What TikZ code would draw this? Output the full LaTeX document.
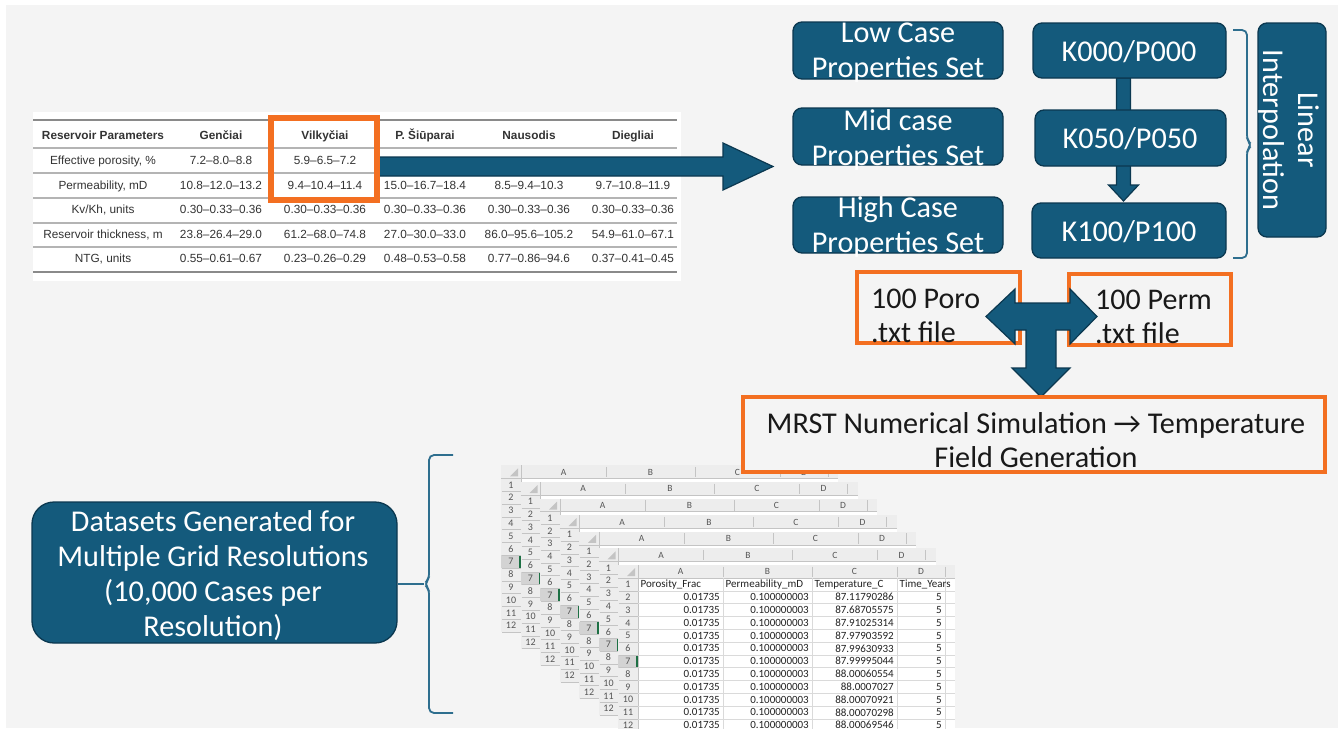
\documentclass[tikz,border=0pt]{standalone}
\usepackage{fontspec}
\setmainfont{Carlito}
\newfontfamily\arialf{Liberation Sans}
\usetikzlibrary{calc}
\definecolor{bgc}{HTML}{F4F4F4}
\definecolor{tealc}{HTML}{145A7C}
\definecolor{tealdk}{HTML}{0B3850}
\definecolor{orng}{HTML}{F36F21}
\definecolor{bracec}{HTML}{2E6E8E}
\definecolor{tabthk}{HTML}{8A8A8A}
\definecolor{tabthn}{HTML}{B4B4B4}
\definecolor{tabtxt}{HTML}{333333}
\definecolor{xhdr}{HTML}{EDEDED}
\definecolor{xsel}{HTML}{D3D3D3}
\definecolor{xgreen}{HTML}{1D7044}
\definecolor{xline}{HTML}{C4C4C4}
\definecolor{xgrid}{HTML}{DADADA}
\definecolor{xtxt}{HTML}{222222}
\definecolor{xrnc}{HTML}{555555}
\tikzset{
 tealbox/.style={draw=tealdk, line width=1.3pt, fill=tealc, rounded corners=9pt, inner sep=0pt},
 wtxt/.style={text=white, font=\fontsize{30.2}{35}\selectfont, align=center, inner sep=0pt},
 obox/.style={draw=orng, line width=3.8pt, inner sep=0pt},
 otxt/.style={text=black!90, font=\fontsize{30}{34.5}\selectfont, align=left, inner sep=0pt},
 mtxt/.style={text=black!90, font=\fontsize{30.2}{34.5}\selectfont, align=center, inner sep=0pt},
 blk/.style={fill=tealc, draw=tealdk, line width=1.2pt, line join=miter},
 brc/.style={draw=bracec, line width=1.8pt, rounded corners=5pt},
 tt/.style={font=\arialf\fontsize{11.8}{13}\selectfont, text=tabtxt, inner sep=0pt, text height=8.5pt, text depth=2.5pt},
 th/.style={tt, font=\arialf\bfseries\fontsize{11.8}{13}\selectfont},
 tabthick/.style={draw=tabthk, line width=2.4pt},
 tabthin/.style={draw=tabthn, line width=1.1pt},
 xhd/.style={font=\fontsize{9.5}{10}\selectfont, text=xrnc, inner sep=0pt},
 xrn/.style={font=\fontsize{10}{11}\selectfont, text=xrnc, inner sep=0pt},
 xln/.style={draw=xline, line width=0.6pt},
 xgd/.style={draw=xgrid, line width=0.6pt},
 xcell/.style={font=\fontsize{11}{12}\selectfont, text=xtxt, inner sep=0pt},
}
\newcommand{\trow}[8]{%
 \node[tt] (#2a) at (103,#1) {#3};
 \node[tt] (#2b) at (221,#1) {#4};
 \node[tt] (#2c) at (325,#1) {#5};
 \node[tt] (#2d) at (425,#1) {#6};
 \node[tt] (#2e) at (529,#1) {#7};
 \node[tt] (#2f) at (633,#1) {#8};}
\newcommand{\xlsheet}[3]{%
 \begin{scope}[shift={(#2,#3)}]
  \fill[white] (0,0) rectangle (337,167);
  \fill[xhdr] (0,0) rectangle (337,13);
  \fill[xhdr] (0,13) rectangle (20,167);
  \fill[xsel] (0,{13+6*12.8}) rectangle (20,{13+7*12.8});
  \fill[xgreen] (18.2,{13+6*12.8}) rectangle (20,{13+7*12.8});
  \draw[xln] (0,13) -- (337,13);
  \draw[xln] (20,0) -- (20,167);
  \foreach \xx in {105,194,279,327} \draw[xln] (\xx,1.5) -- (\xx,12);
  \foreach \ii in {1,...,12} \draw[xln] (1,{13+\ii*12.8}) -- (20,{13+\ii*12.8});
  \fill[xline] (17,3) -- (17,11) -- (9,11) -- cycle;
  \foreach \cl/\cx in {A/62.5,B/149.5,C/236.5,D/303} \node[xhd] (#1-\cl) at (\cx,6.8) {\cl};
  \foreach \ii in {1,...,12} \node[xrn] (#1-r\ii) at (10,{13+(\ii-0.5)*12.8}) {\ii};
 \end{scope}}
\begin{document}
\begin{tikzpicture}[x=1pt,y=-1pt]
\clip (0,0) rectangle (1338,728);
\fill[white] (0,0) rectangle (1338,728);
\fill[bgc] (6,5) rectangle (1338,728);

% ---------------- table ----------------
\fill[white] (33,112) rectangle (681,281);
\draw[tabthick] (33,120) -- (677,120);
\foreach \yy in {148,173,198,223,247} \draw[tabthin] (33,\yy) -- (677,\yy);
\draw[tabthick] (33,272) -- (677,272);
\node[th] (h1) at (103,136) {Reservoir Parameters};
\node[th] (h2) at (221,136) {Genčiai};
\node[th] (h3) at (325,136) {Vilkyčiai};
\node[th] (h4) at (425,136) {P. Šiūparai};
\node[th] (h5) at (529,136) {Nausodis};
\node[th] (h6) at (633,136) {Diegliai};
\node[tt] (r1a) at (103,161) {Effective porosity, \%};
\node[tt] (r1b) at (221,161) {7.2–8.0–8.8};
\node[tt] (r1c) at (325,161) {5.9–6.5–7.2};
\trow{186}{r2}{Permeability, mD}{10.8–12.0–13.2}{9.4–10.4–11.4}{15.0–16.7–18.4}{8.5–9.4–10.3}{9.7–10.8–11.9}
\trow{210.5}{r3}{Kv/Kh, units}{0.30–0.33–0.36}{0.30–0.33–0.36}{0.30–0.33–0.36}{0.30–0.33–0.36}{0.30–0.33–0.36}
\trow{235}{r4}{Reservoir thickness, m}{23.8–26.4–29.0}{61.2–68.0–74.8}{27.0–30.0–33.0}{86.0–95.6–105.2}{54.9–61.0–67.1}
\trow{259.5}{r5}{NTG, units}{0.55–0.61–0.67}{0.23–0.26–0.29}{0.48–0.53–0.58}{0.77–0.86–94.6}{0.37–0.41–0.45}

% arrow from table
\filldraw[blk] (377,157) -- (723,157) -- (723,143) -- (773,166.5) -- (723,190) -- (723,176) -- (377,176) -- cycle;
\node[draw=orng, line width=5.5pt, minimum width=106pt, minimum height=82pt, inner sep=0pt] (vilk) at (324,159) {};

% ---------------- property sets ----------------
\node[tealbox, minimum width=210pt, minimum height=57pt] (low) at (898,50.5) {};
\node[wtxt] (lowt) at (898,53) {Low Case\\Properties Set};
\node[tealbox, minimum width=210pt, minimum height=57pt] (mid) at (898,136.5) {};
\node[wtxt] (midt) at (898,139.5) {Mid case\\Properties Set};
\node[tealbox, minimum width=210pt, minimum height=56pt] (high) at (898,225) {};
\node[wtxt] (hight) at (898,226.5) {High Case\\Properties Set};

% K arrow (behind K050)
\filldraw[blk] (1116.5,78) -- (1130.5,78) -- (1130.5,185) -- (1138.5,185) -- (1123.5,201) -- (1108.5,185) -- (1116.5,185) -- cycle;
\node[tealbox, minimum width=193pt, minimum height=55pt] (k000) at (1129.5,50.5) {};
\node[wtxt] (k000t) at (1129,51.5) {K000/P000};
\node[tealbox, minimum width=191pt, minimum height=56pt] (k050) at (1130.5,138) {};
\node[wtxt] (k050t) at (1130,139) {K050/P050};
\node[tealbox, minimum width=194pt, minimum height=55pt] (k100) at (1129,230.5) {};
\node[wtxt] (k100t) at (1129,231.5) {K100/P100};

% bracket and linear interpolation
\draw[brc] (1233,30) -- (1247,30) -- (1247,140) -- (1252,145) -- (1247,150) -- (1247,258) -- (1233,258);
\node[tealbox, minimum width=68pt, minimum height=214pt] (lin) at (1292,130) {};
\node[wtxt, rotate=-90] (lint) at (1289,130) {Linear\\Interpolation};

% ---------------- txt files ----------------
\node[obox, minimum width=163pt, minimum height=71pt] (poro) at (938.5,307.5) {};
\node[otxt, anchor=west] (porot) at (871,316) {100 Poro\\.txt file};
\node[obox, minimum width=162pt, minimum height=71pt] (perm) at (1150,309.5) {};
\node[otxt, anchor=west] (permt) at (1095,317) {100 Perm\\.txt file};
\filldraw[blk] (986,316.5) -- (1015,289) -- (1015,303) -- (1070,303) -- (1070,289) -- (1097,316.5)
  -- (1070,344) -- (1070,330) -- (1056,330) -- (1056,368) -- (1070,368) -- (1041,397)
  -- (1012,368) -- (1026,368) -- (1026,330) -- (1015,330) -- (1015,344) -- cycle;

% ---------------- spreadsheets ----------------
\foreach \k in {6,5,4,3,2,1} {
  \xlsheet{s\k}{618-19.5*\k}{565-16.6*\k}
}
\xlsheet{s0}{618}{565}
\begin{scope}[shift={(618,565)}]
  \foreach \ii in {1,...,12} \draw[xgd] (20,{13+\ii*12.8}) -- (337,{13+\ii*12.8});
  \foreach \xx in {105,194,279,327} \draw[xgd] (\xx,13) -- (\xx,170);
  \node[xcell, anchor=west] (fa1) at (22.5,{13+0.5*12.8}) {Porosity\_Frac};
  \node[xcell, anchor=west] (fb1) at (107.5,{13+0.5*12.8}) {Permeability\_mD};
  \node[xcell, anchor=west] (fc1) at (196.5,{13+0.5*12.8}) {Temperature\_C};
  \node[xcell, anchor=west] (fd1) at (281.5,{13+0.5*12.8}) {Time\_Years};
  \foreach \ii/\tv in {2/87.11790286,3/87.68705575,4/87.91025314,5/87.97903592,6/87.99630933,7/87.99995044,8/88.00060554,9/88.0007027,10/88.00070921,11/88.00070298,12/88.00069546} {
    \node[xcell, anchor=east] (fa\ii) at (102,{13+(\ii-0.5)*12.8}) {0.01735};
    \node[xcell, anchor=east] (fb\ii) at (191,{13+(\ii-0.5)*12.8}) {0.100000003};
    \node[xcell, anchor=east] (fc\ii) at (276,{13+(\ii-0.5)*12.8}) {\tv};
    \node[xcell, anchor=east] (fd\ii) at (324,{13+(\ii-0.5)*12.8}) {5};
  }
\end{scope}

% ---------------- MRST ----------------
\node[obox, fill=bgc, minimum width=582pt, minimum height=75pt] (mrst) at (1034,434.5) {};
\node[mtxt] (mrstt) at (1036,440) {MRST Numerical Simulation → Temperature\\Field Generation};

% ---------------- datasets ----------------
\node[tealbox, rounded corners=22pt, minimum width=365pt, minimum height=141pt] (data) at (214.5,572.5) {};
\node[wtxt] (datat) at (213,576) {Datasets Generated for\\Multiple Grid Resolutions\\(10,000 Cases per\\Resolution)};
\coordinate (dtip) at (424,584);
\draw[brc] (453,455) -- (429,455) -- (429,579) -- (dtip) -- (429,589) -- (429,713) -- (453,713);
\draw[brc] (data.east |- dtip) -- (dtip);
\end{tikzpicture}
\end{document}
